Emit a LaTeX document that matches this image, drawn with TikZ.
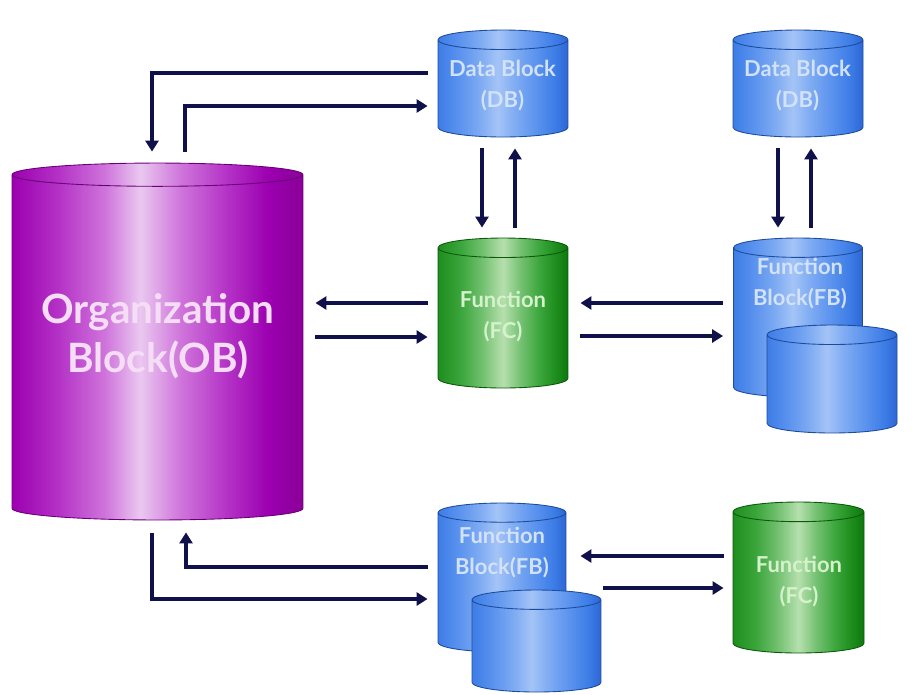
\documentclass[tikz,border=0pt]{standalone}
\usepackage{fontspec}
\setmainfont{Lato}
\usetikzlibrary{shapes.geometric,arrows.meta}

\definecolor{arrowc}{HTML}{10104A}
\definecolor{dbA}{HTML}{3D7DE6}
\definecolor{dbB}{HTML}{5A92EE}
\definecolor{dbC}{HTML}{7DAAF2}
\definecolor{dbD}{HTML}{A4C4F7}
\definecolor{dbE}{HTML}{2E66D6}
\definecolor{dbline}{HTML}{1E4C9C}
\definecolor{dbtext}{HTML}{D2E2FA}
\definecolor{obA}{HTML}{9C00B0}
\definecolor{obB}{HTML}{B432C6}
\definecolor{obC}{HTML}{CF74DB}
\definecolor{obD}{HTML}{EAC8F0}
\definecolor{obE}{HTML}{8A0098}
\definecolor{obline}{HTML}{6A0078}
\definecolor{obtext}{HTML}{F6DDF6}
\definecolor{fcA}{HTML}{1E8E1E}
\definecolor{fcB}{HTML}{3CA63C}
\definecolor{fcC}{HTML}{72C070}
\definecolor{fcD}{HTML}{B6E0AE}
\definecolor{fcE}{HTML}{0E780E}
\definecolor{fcline}{HTML}{0A5A0A}
\definecolor{fctext}{HTML}{D4F2CC}

\pgfdeclarehorizontalshading{dbshade}{100bp}{color(0bp)=(dbA); color(25bp)=(dbA);
  color(33bp)=(dbB); color(41bp)=(dbC); color(48bp)=(dbD); color(55bp)=(dbC);
  color(63bp)=(dbB); color(70bp)=(dbA); color(75bp)=(dbE); color(100bp)=(dbE)}
\pgfdeclarehorizontalshading{obshade}{100bp}{color(0bp)=(obA); color(25bp)=(obA);
  color(33bp)=(obB); color(41bp)=(obC); color(47bp)=(obD); color(54bp)=(obC);
  color(62bp)=(obB); color(69bp)=(obA); color(75bp)=(obE); color(100bp)=(obE)}
\pgfdeclarehorizontalshading{fcshade}{100bp}{color(0bp)=(fcA); color(25bp)=(fcA);
  color(34bp)=(fcB); color(42bp)=(fcC); color(50bp)=(fcD); color(57bp)=(fcC);
  color(64bp)=(fcB); color(70bp)=(fcA); color(75bp)=(fcE); color(100bp)=(fcE)}

\begin{document}
\begin{tikzpicture}[x=0.02cm,y=-0.02cm,
    cyl/.style={cylinder,shape border rotate=90,anchor=shape center,inner sep=0pt,
      line width=0.5pt,shade,aspect=0.15},
    dbcyl/.style={cyl,draw=dbline,shading=dbshade},
    fccyl/.style={cyl,draw=fcline,shading=fcshade},
    obcyl/.style={cyl,draw=obline,shading=obshade,aspect=0.08},
    lbl/.style={align=center,font=\bfseries\fontsize{12.5}{17.6}\selectfont},
    arr/.style={draw=arrowc,line width=1.9pt,-{Triangle[length=0.22cm,width=0.26cm]}}]
  \useasboundingbox (0,0) rectangle (919,694);
  % blocks
  \node[obcyl,text width=5.82cm,minimum height=7.14cm] (ob) at (157.5,341.5) {};
  \node[dbcyl,text width=2.6cm,minimum height=2.14cm] (db1) at (503,83.5) {};
  \node[dbcyl,text width=2.6cm,minimum height=2.14cm] (db2) at (798,83.5) {};
  \node[fccyl,text width=2.6cm,minimum height=3cm] (fc1) at (503,313) {};
  \node[dbcyl,text width=2.58cm,minimum height=3.18cm] (fb1) at (798,317.5) {};
  \node[dbcyl,text width=2.6cm,minimum height=2.16cm] (fb1f) at (832,379) {};
  \node[dbcyl,text width=2.56cm,minimum height=2.98cm] (fb2) at (502,577.5) {};
  \node[dbcyl,text width=2.58cm,minimum height=2.04cm] (fb2f) at (536.5,641) {};
  \node[fccyl,text width=2.62cm,minimum height=3.02cm] (fc2) at (798.5,577.5) {};
  % labels
  \node[lbl,text=obtext,font=\bfseries\fontsize{23}{28}\selectfont] (obt) at (158,336) {Organization\\Block(OB)};
  \node[lbl,text=dbtext] (db1t) at (502.5,86) {Data Block\\(DB)};
  \node[lbl,text=dbtext] (db2t) at (797.5,86) {Data Block\\(DB)};
  \node[lbl,text=fctext] (fc1t) at (503,317) {Function\\(FC)};
  \node[lbl,text=dbtext] (fb1t) at (800,284) {Function\\Block(FB)};
  \node[lbl,text=dbtext] (fb2t) at (502,553) {Function\\Block(FB)};
  \node[lbl,text=fctext] (fc2t) at (799,582) {Function\\(FC)};
  % connectors
  \draw[arr,shorten <=0.22cm,shorten >=0.2cm] (ob.north -| 185,0) |- (db1.west |- 0,106);
  \draw[arr,shorten <=0.2cm,shorten >=0.22cm] (db1.west |- 0,73) -| (ob.north -| 152,0);
  \draw[arr,shorten <=0.22cm,shorten >=0.2cm] (db1.south -| 482,0) -- (fc1.north -| 482,0);
  \draw[arr,shorten <=0.2cm,shorten >=0.22cm] (fc1.north -| 515,0) -- (db1.south -| 515,0);
  \draw[arr,shorten <=0.22cm,shorten >=0.2cm] (db2.south -| 778,0) -- (fb1.north -| 778,0);
  \draw[arr,shorten <=0.2cm,shorten >=0.22cm] (fb1.north -| 811,0) -- (db2.south -| 811,0);
  \draw[arr,shorten <=0.2cm,shorten >=0.24cm] (fc1.west |- 0,303) -- (ob.east |- 0,303);
  \draw[arr,shorten <=0.24cm,shorten >=0.2cm] (ob.east |- 0,337) -- (fc1.west |- 0,337);
  \draw[arr,shorten <=0.2cm,shorten >=0.24cm] (fb1.west |- 0,303) -- (fc1.east |- 0,303);
  \draw[arr,shorten <=0.24cm,shorten >=0.2cm] (fc1.east |- 0,336) -- (fb1.west |- 0,336);
  \draw[arr,shorten <=0.26cm,shorten >=0.2cm] (ob.south -| 152,0) |- (fb2.west |- 0,599);
  \draw[arr,shorten <=0.2cm,shorten >=0.24cm] (fb2.west |- 0,567) -| (ob.south -| 186,0);
  \draw[arr,shorten <=0.18cm,shorten >=0.28cm] (fc2.west |- 0,556) -- (fb2.east |- 0,556);
  \draw[arr,shorten <=0.03cm,shorten >=0.18cm] (fb2f.east |- 0,588) -- (fc2.west |- 0,588);
\end{tikzpicture}
\end{document}
